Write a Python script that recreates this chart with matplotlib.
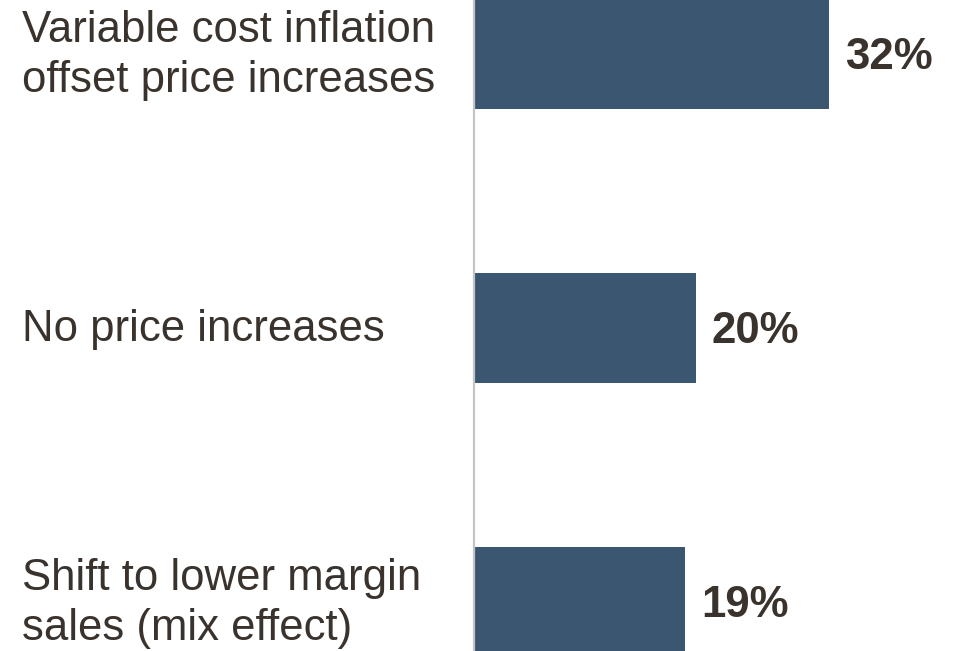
import matplotlib
matplotlib.use("Agg")
import matplotlib.pyplot as plt
from matplotlib.transforms import blended_transform_factory, offset_copy

categories = [
    "Variable cost inflation\noffset price increases",
    "No price increases",
    "Shift to lower margin\nsales (mix effect)",
]
values = [32, 20, 19]
value_labels = ["32%", "20%", "19%"]

BAR_COLOR = "#3b5670"
TEXT_COLOR = "#3a332d"
AXIS_COLOR = "#c4c4c4"

W, H, DPI = 957, 651, 100
fig = plt.figure(figsize=(W / DPI, H / DPI), dpi=DPI)
fig.patch.set_facecolor("white")

left_px = 473.5
ax = fig.add_axes([left_px / W, 0, 1 - left_px / W, 1])

positions = list(range(len(categories)))
ax.barh(positions, values, height=0.4, color=BAR_COLOR, zorder=1)

px_per_unit = 11.12
ax.set_xlim(0, (W - left_px) / px_per_unit)
ax.set_ylim(2.179, -0.197)

for side in ("top", "right", "bottom"):
    ax.spines[side].set_visible(False)
ax.spines["left"].set_color(AXIS_COLOR)
ax.spines["left"].set_linewidth(1.6)
ax.set_xticks([])
ax.set_yticks([])

# value labels just right of each bar
for y, v, lab in zip(positions, values, value_labels):
    ax.annotate(lab, xy=(v, y), xytext=(16, -4), textcoords="offset pixels",
                ha="left", va="center", fontsize=31.5, fontweight="bold",
                color=TEXT_COLOR, family="Liberation Sans")

# category labels, left-aligned near the figure edge
trans = blended_transform_factory(fig.transFigure, ax.transData)
trans = offset_copy(trans, fig=fig, x=0, y=-2, units="dots")
for y, cat in zip(positions, categories):
    fig.text(22 / W, y, cat, transform=trans, ha="left", va="center",
             fontsize=31.5, color=TEXT_COLOR, family="Liberation Sans",
             linespacing=1.28)

fig.savefig("out.png", dpi=DPI, facecolor="white")
